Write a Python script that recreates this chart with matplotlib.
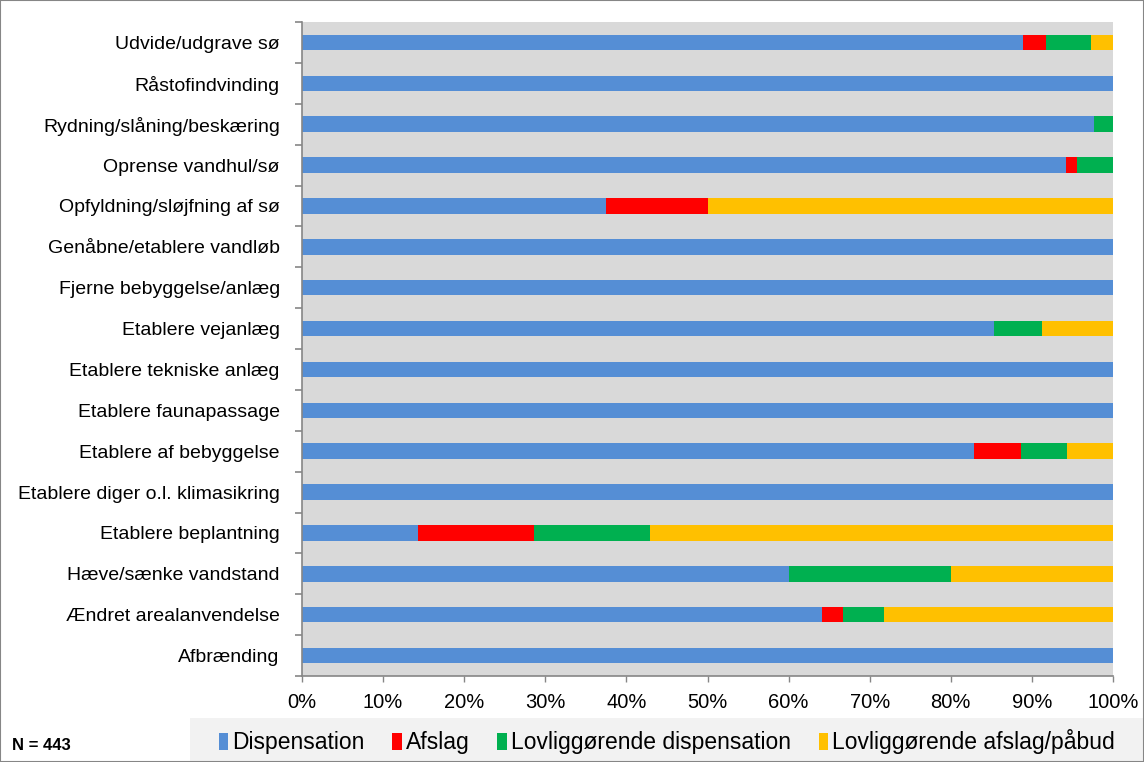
import numpy as np
import matplotlib.pyplot as plt
from matplotlib.patches import Patch, Rectangle

plt.rcParams['font.family'] = ['Liberation Sans', 'DejaVu Sans']

# categories, top to bottom
categories = [
    'Udvide/udgrave sø', 'Råstofindvinding', 'Rydning/slåning/beskæring',
    'Oprense vandhul/sø', 'Opfyldning/sløjfning af sø', 'Genåbne/etablere vandløb',
    'Fjerne bebyggelse/anlæg', 'Etablere vejanlæg', 'Etablere tekniske anlæg',
    'Etablere faunapassage', 'Etablere af bebyggelse', 'Etablere diger o.l. klimasikring',
    'Etablere beplantning', 'Hæve/sænke vandstand', 'Ændret arealanvendelse', 'Afbrænding',
]
# shares in percent
dispensation = [88.9, 100, 97.7, 94.2, 37.5, 100, 100, 85.3, 100, 100, 82.9, 100, 14.3, 60.0, 64.1, 100]
afslag = [2.8, 0, 0, 1.4, 12.5, 0, 0, 0, 0, 0, 5.7, 0, 14.3, 0, 2.6, 0]
lovl_disp = [5.6, 0, 2.3, 4.4, 0, 0, 0, 5.9, 0, 0, 5.7, 0, 14.3, 20.0, 5.1, 0]
lovl_afslag = [2.7, 0, 0, 0, 50.0, 0, 0, 8.8, 0, 0, 5.7, 0, 57.1, 20.0, 28.2, 0]

series = ['Dispensation', 'Afslag', 'Lovliggørende dispensation', 'Lovliggørende afslag/påbud']
colors = ['#558ED5', '#FF0000', '#00B050', '#FFC000']

fig = plt.figure(figsize=(11.44, 7.62), dpi=100)
ax = fig.add_axes([302 / 1144, 1 - 676 / 762, 811 / 1144, 654 / 762])
ax.set_facecolor('#D9D9D9')

y = np.arange(len(categories))
left = np.zeros(len(categories))
for vals, col in zip([dispensation, afslag, lovl_disp, lovl_afslag], colors):
    v = np.array(vals)
    ax.barh(y, v, left=left, height=0.38, color=col, edgecolor='none')
    left += v

ax.set_xlim(0, 100)
ax.set_ylim(len(categories) - 0.5, -0.5)
ax.set_yticks(y)
ax.set_yticklabels(categories, fontsize=14)
ax.set_yticks(np.arange(len(categories) + 1) - 0.5, minor=True)
ax.tick_params(axis='y', which='major', length=0, pad=16)
ax.tick_params(axis='y', which='minor', length=5, color='#868686', width=1.2)
ax.set_xticks(np.arange(0, 101, 10))
ax.set_xticklabels([f'{t}%' for t in range(0, 101, 10)], fontsize=14.5)
ax.tick_params(axis='x', length=4, color='#868686', width=1, pad=8)

for s in ['top', 'right']:
    ax.spines[s].set_visible(False)
for s in ['left', 'bottom']:
    ax.spines[s].set_color('#868686')
    ax.spines[s].set_linewidth(1.2)

# legend box
fig.patches.append(Rectangle((190 / 1144, 0), 1 - 190 / 1144, 44 / 762,
                             transform=fig.transFigure, facecolor='#F2F2F2',
                             edgecolor='none', zorder=0))
handles = [Patch(facecolor=c, edgecolor='none') for c in colors]
fig.legend(handles, series, loc='center', bbox_to_anchor=(667 / 1144, 1 - 742 / 762),
           ncol=4, frameon=False, fontsize=16.5, handlelength=0.4, handleheight=0.7,
           handletextpad=0.2, columnspacing=1.2)

fig.text(12 / 1144, 1 - 746 / 762, 'N = 443', fontsize=12, fontweight='bold', va='center')

# outer frame
fig.patches.append(Rectangle((0, 0), 1, 1, transform=fig.transFigure, facecolor='none',
                             edgecolor='#868686', linewidth=1.5))

fig.savefig('out.png', dpi=100)
